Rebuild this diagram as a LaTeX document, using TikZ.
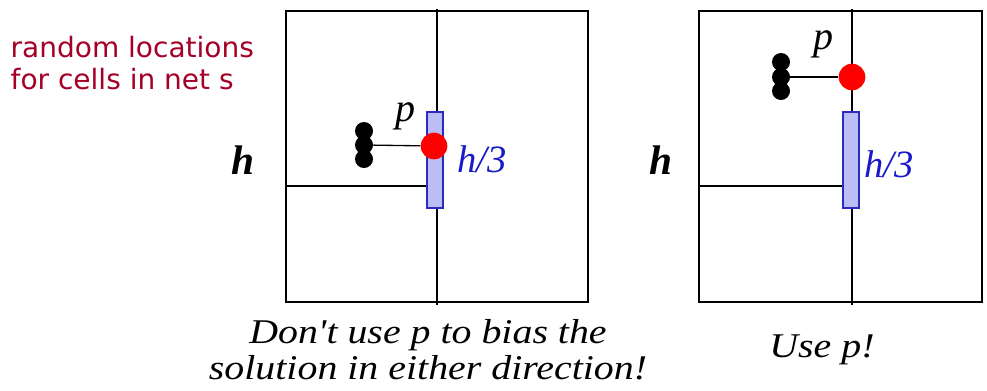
\documentclass[tikz,border=0pt]{standalone}
\usepackage{fontspec}
\setmainfont{Liberation Serif}
\newfontfamily\notefont{DejaVu Sans}
\newfontfamily\capfont[FakeStretch=1.15]{Liberation Serif}
\usepackage{tikz}
\usetikzlibrary{positioning}
\definecolor{notered}{HTML}{A50026}
\definecolor{pinred}{HTML}{FF0000}
\definecolor{slotblue}{HTML}{2A2ABF}
\definecolor{slotfill}{HTML}{BDBDF5}
\definecolor{labblue}{HTML}{1A1AC8}

\begin{document}
\begin{tikzpicture}[x=0.75pt,y=-0.75pt,
  frame/.style={draw=black,line width=1.4pt},
  cut/.style={draw=black,line width=1.1pt},
  slot/.style={draw=slotblue,fill=slotfill,line width=0.9pt,minimum width=12pt,minimum height=72pt,inner sep=0pt},
  pin/.style={circle,fill=pinred,minimum size=20pt,inner sep=0pt},
  cellc/.style={circle,fill=black,minimum size=13.5pt,inner sep=0pt},
  wire/.style={draw=black,line width=1pt},
  hlab/.style={font=\fontsize{31}{34}\selectfont\bfseries\itshape},
  plab/.style={font=\fontsize{30}{33}\selectfont\itshape},
  thirdlab/.style={text=labblue,font=\fontsize{29}{32}\selectfont\itshape},
  caption/.style={align=center,font=\capfont\itshape\fontsize{26}{27}\selectfont}]
  \useasboundingbox (0,0) rectangle (987,390);
  % note
  \node[anchor=west,align=left,text=notered,font=\notefont\fontsize{21}{24.5}\selectfont] (note) at (6,63) {random locations\\for cells in net s};
  % left: p in the middle of the slot
  \draw[frame] (286,11) rectangle (588,302);
  \draw[cut] (437,9) -- (437,305);
  \draw[cut] (286,186) -- (437,186);
  \node[slot] (slotA) at (435,160) {};
  \node[cellc] (ca1) at (364,131) {};
  \node[cellc] (ca2) at (364,145) {};
  \node[cellc] (ca3) at (364,159) {};
  \node[pin] (pinA) at (434,146) {};
  \draw[wire] (ca2) -- (pinA);
  \node[plab] (pA) at (405,116) {p};
  \node[thirdlab] (tA) at (482,159) {h/3};
  \node[hlab] (hA) at (243,160) {h};
  \node[caption] (capA) at (428,350) {Don't use p to bias the\\solution in either direction!};
  % right: p above the slot
  \draw[frame] (699,11) rectangle (982,302);
  \draw[cut] (852,9) -- (852,305);
  \draw[cut] (699,186) -- (852,186);
  \node[slot] (slotB) at (851,160) {};
  \node[cellc] (cb1) at (781,62) {};
  \node[cellc] (cb2) at (781,77) {};
  \node[cellc] (cb3) at (781,91) {};
  \node[pin] (pinB) at (852,77) {};
  \draw[wire] (cb2) -- (pinB);
  \node[plab] (pB) at (823,44) {p};
  \node[thirdlab] (tB) at (889,164) {h/3};
  \node[hlab] (hB) at (661,160) {h};
  \node[caption] (capB) at (822,350) {Use p!};
\end{tikzpicture}
\end{document}
